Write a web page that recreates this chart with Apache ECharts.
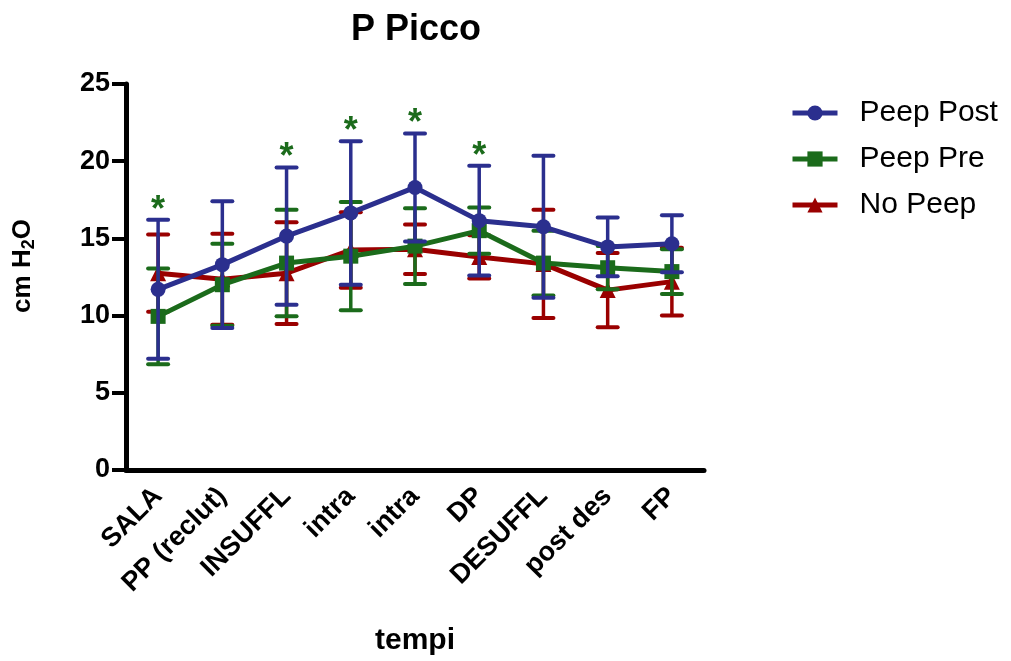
<!DOCTYPE html>
<html>
<head>
<meta charset="utf-8">
<script src="https://cdn.jsdelivr.net/npm/echarts@6/dist/echarts.min.js"></script>
<style>
  html, body { margin: 0; padding: 0; background: #fff; }
  #chart { width: 1011px; height: 661px; }
</style>
</head>
<body>
<div id="chart"></div>
<script>
// Time points of the procedure
const categories = ['SALA', 'PP (reclut)', 'INSUFFL', 'intra', 'intra', 'DP', 'DESUFFL', 'post des', 'FP'];

// Peak pressure (cm H2O), mean and standard deviation per group
const peepPostMean = [11.7, 13.3, 15.15, 16.65, 18.3, 16.15, 15.75, 14.45, 14.65];
const peepPostSd   = [4.5, 4.1, 4.45, 4.65, 3.5, 3.55, 4.6, 1.9, 1.85];

const peepPreMean  = [9.95, 12.0, 13.4, 13.85, 14.5, 15.5, 13.4, 13.1, 12.85];
const peepPreSd    = [3.1, 2.65, 3.45, 3.5, 2.45, 1.5, 2.1, 1.4, 1.45];

const noPeepMean   = [12.75, 12.35, 12.75, 14.25, 14.3, 13.8, 13.35, 11.65, 12.2];
const noPeepSd     = [2.5, 2.95, 3.3, 2.45, 1.6, 1.4, 3.5, 2.4, 2.2];

// Significance markers (1 = significant difference at that time point)
const significant = [1, 0, 1, 1, 1, 1, 0, 0, 0];

// Y axis ticks
const yTicks = { min: 0, max: 25, step: 5 };

const FONT = '"Liberation Sans", Arial, Helvetica, sans-serif';
const BLUE = '#2B2F8E';
const GREEN = '#1B6B1B';
const RED = '#9A0000';

function errorBars(name, mean, sd, color, z) {
  return {
    type: 'custom',
    name: name + ' SD',
    z: z,
    silent: true,
    animation: false,
    data: mean.map((m, i) => [i, m - sd[i], m + sd[i]]),
    encode: { x: 0, y: [1, 2] },
    renderItem: function (params, api) {
      const lo = api.coord([api.value(0), api.value(1)]);
      const hi = api.coord([api.value(0), api.value(2)]);
      const hw = 10;
      const stem = { stroke: color, lineWidth: 3.5 };
      const cap = { stroke: color, lineWidth: 4, lineCap: 'round' };
      return {
        type: 'group',
        children: [
          { type: 'line', shape: { x1: hi[0], y1: hi[1], x2: lo[0], y2: lo[1] }, style: stem },
          { type: 'line', shape: { x1: hi[0] - hw, y1: hi[1], x2: hi[0] + hw, y2: hi[1] }, style: cap },
          { type: 'line', shape: { x1: lo[0] - hw, y1: lo[1], x2: lo[0] + hw, y2: lo[1] }, style: cap }
        ]
      };
    }
  };
}

function meanLine(name, mean, color, symbol, size, z) {
  return {
    type: 'line',
    name: name,
    data: mean,
    z: z,
    animation: false,
    symbol: symbol,
    symbolSize: size,
    showAllSymbol: true,
    lineStyle: { width: 5, color: color },
    itemStyle: { color: color }
  };
}

// Asterisks above the upper error bar of the Peep Post group
const starData = [];
significant.forEach((s, i) => {
  if (s) starData.push([i, peepPostMean[i] + peepPostSd[i]]);
});

const chart = echarts.init(document.getElementById('chart'), null, { renderer: 'canvas' });

chart.setOption({
  backgroundColor: '#ffffff',
  animation: false,
  title: {
    text: 'P Picco',
    left: 411,
    top: 7,
    textAlign: 'center',
    textStyle: { fontFamily: FONT, fontSize: 36, fontWeight: 'bold', color: '#000' }
  },
  legend: {
    data: ['Peep Post', 'Peep Pre', 'No Peep'],
    orient: 'vertical',
    left: 790,
    top: 98,
    padding: 0,
    itemWidth: 45,
    itemHeight: 19,
    itemGap: 16,
    lineStyle: { width: 5 },
    textStyle: { fontFamily: FONT, fontSize: 30, color: '#000', padding: [0, 0, 0, 17] }
  },
  grid: { left: 126, right: 307, top: 84, bottom: 191, containLabel: false, outerBoundsMode: 'none' },
  xAxis: {
    type: 'category',
    data: categories,
    boundaryGap: true,
    name: 'tempi',
    nameLocation: 'middle',
    nameGap: 156,
    nameTextStyle: { fontFamily: FONT, fontSize: 30, fontWeight: 'bold', color: '#000' },
    axisLine: { lineStyle: { color: '#000', width: 5 } },
    axisTick: { alignWithLabel: true, length: 13, lineStyle: { color: '#000', width: 4 } },
    axisLabel: {
      rotate: 45,
      margin: 22,
      interval: 0,
      fontFamily: FONT,
      fontSize: 27,
      fontWeight: 'bold',
      color: '#000'
    },
    splitLine: { show: false }
  },
  yAxis: {
    type: 'value',
    min: yTicks.min,
    max: yTicks.max,
    interval: yTicks.step,
    name: 'cm H{sub|2}O',
    nameLocation: 'middle',
    nameRotate: 90,
    nameGap: 88,
    nameTextStyle: {
      fontFamily: FONT, fontSize: 26, fontWeight: 'bold', color: '#000',
      padding: [0, 0, 0, 22],
      rich: {
        sub: { fontFamily: FONT, fontSize: 18, fontWeight: 'bold', color: '#000', verticalAlign: 'bottom', padding: [12, 0, 0, 0] }
      }
    },
    axisLine: { show: true, lineStyle: { color: '#000', width: 5 } },
    axisTick: { show: true, length: 14, lineStyle: { color: '#000', width: 4 } },
    axisLabel: { margin: 16, fontFamily: FONT, fontSize: 27, fontWeight: 'bold', color: '#000' },
    splitLine: { show: false }
  },
  series: [
    errorBars('No Peep', noPeepMean, noPeepSd, RED, 1),
    meanLine('No Peep', noPeepMean, RED, 'triangle', 16, 2),
    errorBars('Peep Pre', peepPreMean, peepPreSd, GREEN, 3),
    meanLine('Peep Pre', peepPreMean, GREEN, 'rect', 15, 4),
    errorBars('Peep Post', peepPostMean, peepPostSd, BLUE, 5),
    meanLine('Peep Post', peepPostMean, BLUE, 'circle', 15, 6),
    {
      type: 'custom',
      name: 'significance',
      z: 7,
      silent: true,
      animation: false,
      data: starData,
      encode: { x: 0, y: 1 },
      renderItem: function (params, api) {
        const p = api.coord([api.value(0), api.value(1)]);
        return {
          type: 'text',
          x: p[0],
          y: p[1] + 9,
          style: {
            text: '*',
            fontFamily: FONT,
            fontSize: 36,
            fontWeight: 'bold',
            fill: GREEN,
            align: 'center',
            verticalAlign: 'bottom'
          }
        };
      }
    }
  ]
});
</script>
</body>
</html>
